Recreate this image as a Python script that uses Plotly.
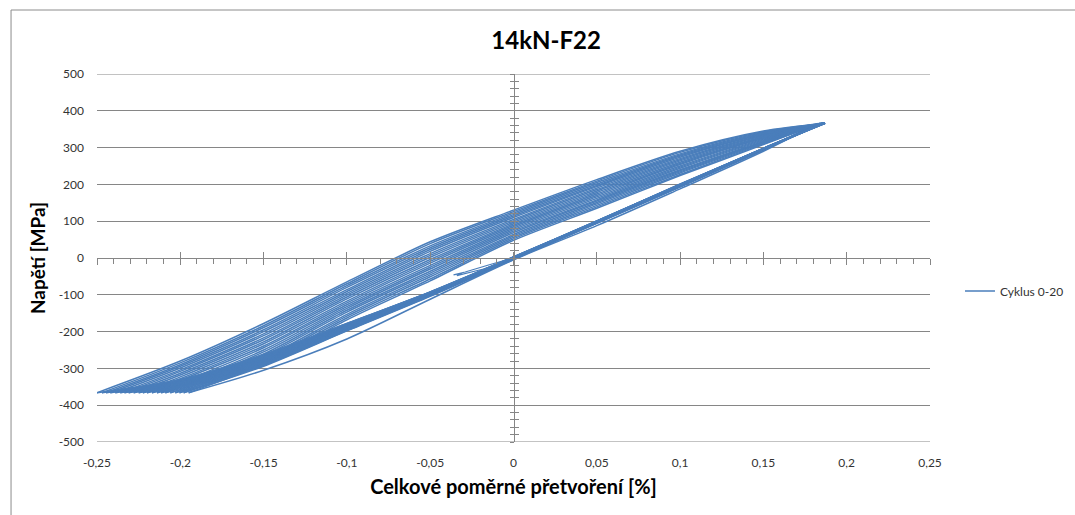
import plotly.graph_objects as go

# ---- tick labels -------------------------------------------------------
x_ticks = [-0.25, -0.2, -0.15, -0.1, -0.05, 0.0, 0.05, 0.1, 0.15, 0.2, 0.25]
x_labels = ["-0,25", "-0,2", "-0,15", "-0,1", "-0,05", "0", "0,05", "0,1", "0,15", "0,2", "0,25"]
y_ticks = [-500, -400, -300, -200, -100, 0, 100, 200, 300, 400, 500]
y_labels = ["-500", "-400", "-300", "-200", "-100", "0", "100", "200", "300", "400", "500"]

# ---- hysteresis data (strain in %, stress in MPa) -----------------------
peak_stress = 366
valley_stress = -366

# strain at each tension peak (22 peaks: end of first loading + end of every rising branch)
peak_strain = [0.183, 0.184, 0.185, 0.184, 0.185, 0.186, 0.185, 0.186, 0.186, 0.185, 0.186,
               0.187, 0.186, 0.186, 0.187, 0.186, 0.187, 0.187, 0.186, 0.187, 0.187, 0.187]

# strain at each compression valley, cycles 0..20
valley_strain = [-0.195, -0.198, -0.2005, -0.203, -0.206, -0.209, -0.2115, -0.214, -0.217, -0.220,
                 -0.2225, -0.225, -0.228, -0.231, -0.2335, -0.236, -0.239, -0.242, -0.2445, -0.247, -0.250]

# strain stations of the tabulated branch stresses
desc_stations = [0.15, 0.1, 0.05, 0.0, -0.05, -0.1, -0.15, -0.2]
asc_stations = [-0.2, -0.15, -0.1, -0.05, 0.0, 0.05, 0.1, 0.15]

# unloading branches (tension peak -> compression valley), one row per cycle
desc_stress = [
    [290, 188, 88, -5, -112, -220, -305, None],
    [294, 193, 94, -4, -104, -198, -294, None],
    [295, 194, 95, -3, -103, -197, -292, None],
    [293, 195, 96, -2, -102, -196, -290, -362],
    [296, 194, 95, -3, -101, -194, -288, -358],
    [295, 196, 97, -1, -100, -193, -286, -355],
    [297, 195, 96, -2, -99, -191, -284, -352],
    [296, 197, 97, 0, -99, -190, -283, -350],
    [294, 196, 98, -1, -98, -189, -281, -348],
    [297, 198, 97, 0, -97, -188, -279, -346],
    [296, 197, 98, 1, -97, -187, -278, -344],
    [298, 198, 99, 0, -96, -186, -276, -343],
    [297, 199, 98, 1, -96, -185, -275, -341],
    [296, 198, 99, 2, -95, -184, -273, -340],
    [298, 199, 100, 1, -95, -183, -272, -338],
    [297, 200, 99, 2, -94, -182, -270, -337],
    [298, 199, 100, 2, -94, -181, -269, -335],
    [297, 200, 100, 3, -93, -180, -267, -334],
    [298, 200, 101, 2, -93, -179, -265, -333],
    [297, 201, 100, 3, -92, -178, -264, -331],
    [298, 200, 101, 3, -92, -178, -262, -330],
]

# reloading branches (compression valley -> next tension peak), one row per cycle
asc_stress = [
    [None, -288, -168, -62, 48, 135, 224, 308],
    [None, -283, -163, -57, 52, 139, 227, 310],
    [None, -277, -158, -51, 56, 143, 231, 312],
    [-361, -272, -153, -46, 60, 147, 234, 314],
    [-357, -266, -147, -41, 64, 151, 237, 315],
    [-352, -261, -142, -36, 69, 155, 240, 317],
    [-348, -255, -137, -30, 73, 158, 244, 319],
    [-343, -250, -132, -25, 77, 162, 247, 321],
    [-338, -244, -127, -20, 81, 166, 250, 323],
    [-332, -239, -122, -14, 85, 170, 254, 325],
    [-328, -233, -117, -9, 89, 174, 257, 326],
    [-323, -228, -111, -4, 93, 178, 260, 328],
    [-318, -222, -106, 2, 97, 182, 264, 330],
    [-313, -217, -101, 7, 101, 186, 267, 332],
    [-308, -211, -96, 12, 105, 190, 270, 334],
    [-304, -206, -91, 18, 110, 194, 274, 336],
    [-299, -200, -86, 23, 114, 197, 277, 337],
    [-294, -195, -80, 28, 118, 201, 280, 339],
    [-290, -189, -75, 33, 122, 205, 283, 341],
    [-285, -184, -70, 39, 126, 209, 287, 343],
    [-280, -178, -65, 44, 130, 213, 290, 345],
]

# first loading from zero up to the first tension peak
initial_strain = [0.0, -0.018, -0.034, -0.031, -0.036, -0.029, -0.015, 0.0, 0.05, 0.1, 0.15]
initial_stress = [0, -30, -48, -41, -46, -38, -19, 0, 97, 196, 296]

LINE_BLUE = "#4a7ebb"
AXIS_GREY = "#868686"
FONT = "Lato"

# ---- assemble the cyclic path, one smoothed piece per branch ------------
xs, ys = [], []
for i in range(len(valley_strain)):
    # unloading: peak i -> valley i
    xs.append(peak_strain[i]); ys.append(peak_stress)
    for s, v in zip(desc_stations, desc_stress[i]):
        if v is not None and s > valley_strain[i]:
            xs.append(s); ys.append(v)
    xs.append(valley_strain[i]); ys.append(valley_stress)
    xs.append(None); ys.append(None)
    # reloading: valley i -> peak i+1
    xs.append(valley_strain[i]); ys.append(valley_stress)
    for s, v in zip(asc_stations, asc_stress[i]):
        if v is not None and s > valley_strain[i]:
            xs.append(s); ys.append(v)
    xs.append(peak_strain[i + 1]); ys.append(peak_stress)
    xs.append(None); ys.append(None)

fig = go.Figure()

fig.add_trace(go.Scatter(
    x=initial_strain + [peak_strain[0]], y=initial_stress + [peak_stress],
    mode="lines", line=dict(color=LINE_BLUE, width=1.2),
    showlegend=False, hoverinfo="skip",
))
fig.add_trace(go.Scatter(
    x=xs, y=ys, mode="lines", name="Cyklus 0-20",
    line=dict(color=LINE_BLUE, width=1.5, shape="spline", smoothing=0.8),
    connectgaps=False,
))

# empty traces that bring the crossing axes (through the origin) into the figure
for xa, ya in [("x2", "y"), ("x3", "y"), ("x", "y2"), ("x", "y3")]:
    fig.add_trace(go.Scatter(x=[None], y=[None], xaxis=xa, yaxis=ya,
                             showlegend=False, hoverinfo="skip"))

tick_font = dict(family=FONT, size=12, color="#333333")

# horizontal gridlines at both ends of the stress range
edge_grid = [dict(type="line", xref="paper", yref="y", x0=0, x1=1, y0=v, y1=v,
                  line=dict(color=AXIS_GREY, width=1), layer="below")
             for v in (y_ticks[0], y_ticks[-1])]

fig.update_layout(
    width=1075, height=515,
    margin=dict(l=97, r=145, t=74, b=73, autoexpand=False),
    paper_bgcolor="white", plot_bgcolor="white",
    font=dict(family=FONT, color="#000000"),
    title=dict(text="<b>14kN-F22</b>", x=0.508, xref="container", xanchor="center",
               y=0.922, yref="container", yanchor="middle",
               font=dict(family=FONT, size=24, color="#000000")),
    xaxis=dict(range=[-0.25, 0.25], tickmode="array", tickvals=x_ticks, ticktext=x_labels,
               showgrid=False, zeroline=False, showline=False, ticks="",
               ticklabelstandoff=12, tickfont=tick_font, fixedrange=True,
               title=dict(text="<b>Celkové poměrné přetvoření [%]</b>", standoff=10,
                          font=dict(family=FONT, size=20, color="#000000"))),
    yaxis=dict(range=[-500, 500], tickmode="array", tickvals=y_ticks, ticktext=y_labels,
               showgrid=True, gridcolor=AXIS_GREY, gridwidth=1, zeroline=False,
               showline=False, ticks="", ticklabelstandoff=12, tickfont=tick_font,
               fixedrange=True,
               title=dict(text="<b>Napětí [MPa]</b>", standoff=8,
                          font=dict(family=FONT, size=19, color="#000000"))),
    # horizontal axis line at zero stress: crossing major ticks, minor ticks below
    xaxis2=dict(overlaying="x", anchor="free", position=0.5, range=[-0.25, 0.25],
                showline=True, linecolor=AXIS_GREY, linewidth=1,
                tickmode="linear", tick0=0, dtick=0.05, ticks="outside", ticklen=6,
                tickcolor=AXIS_GREY, tickwidth=1, showticklabels=False,
                showgrid=False, zeroline=False, fixedrange=True,
                minor=dict(ticks="outside", ticklen=5, tick0=0, dtick=0.01,
                           tickcolor=AXIS_GREY, tickwidth=1, showgrid=False)),
    xaxis3=dict(overlaying="x", anchor="free", position=0.5, range=[-0.25, 0.25],
                showline=False, tickmode="linear", tick0=0, dtick=0.05,
                ticks="inside", ticklen=6, tickcolor=AXIS_GREY, tickwidth=1,
                showticklabels=False, showgrid=False, zeroline=False, fixedrange=True),
    # vertical axis line at zero strain with crossing tick marks
    yaxis2=dict(overlaying="y", anchor="free", position=0.5, range=[-500, 500],
                showline=True, linecolor=AXIS_GREY, linewidth=1,
                tickmode="linear", tick0=0, dtick=100, ticks="outside", ticklen=4,
                tickcolor=AXIS_GREY, tickwidth=1, showticklabels=False,
                showgrid=False, zeroline=False, fixedrange=True,
                minor=dict(ticks="outside", ticklen=4, tick0=0, dtick=20,
                           tickcolor=AXIS_GREY, tickwidth=1, showgrid=False)),
    yaxis3=dict(overlaying="y", anchor="free", position=0.5, range=[-500, 500],
                showline=False, tickmode="linear", tick0=0, dtick=100,
                ticks="inside", ticklen=4, tickcolor=AXIS_GREY, tickwidth=1,
                showticklabels=False, showgrid=False, zeroline=False, fixedrange=True,
                minor=dict(ticks="inside", ticklen=4, tick0=0, dtick=20,
                           tickcolor=AXIS_GREY, tickwidth=1, showgrid=False)),
    legend=dict(x=1.036, y=0.41, xanchor="left", yanchor="middle",
                font=dict(family=FONT, size=12, color="#333333"),
                bgcolor="rgba(0,0,0,0)", borderwidth=0),
    shapes=edge_grid + [
        # chart-area frame
        dict(type="line", xref="paper", yref="paper",
             x0=-0.1032, x1=1.2, y0=1.1739, y1=1.1739,
             line=dict(color="#8c8c8c", width=1)),
        dict(type="line", xref="paper", yref="paper",
             x0=-0.1032, x1=-0.1032, y0=1.1739, y1=-0.25,
             line=dict(color="#8c8c8c", width=1)),
    ],
)

fig.write_html("out.html")
